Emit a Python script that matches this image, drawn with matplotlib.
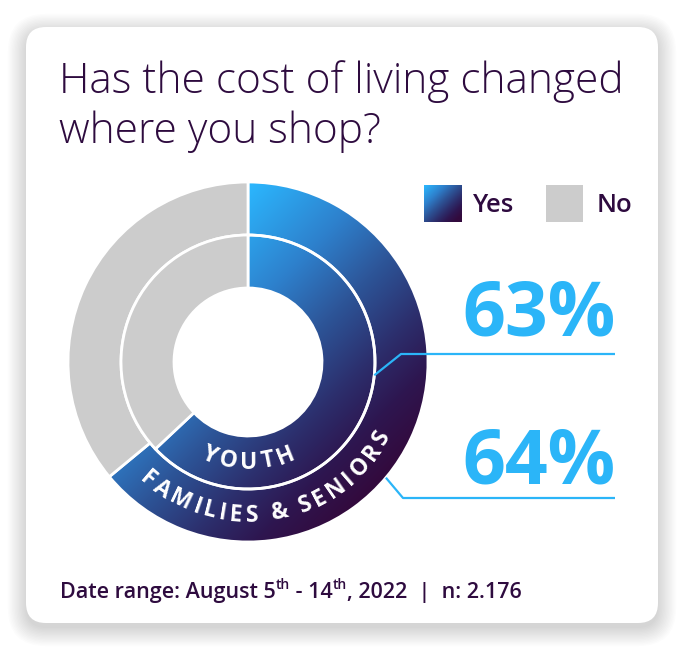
import numpy as np
import matplotlib
matplotlib.use('Agg')
import matplotlib.pyplot as plt
from matplotlib.colors import LinearSegmentedColormap
from matplotlib.patches import FancyBboxPatch, Rectangle
from matplotlib.font_manager import FontProperties

# ---- data ----
ring_labels = ['FAMILIES & SENIORS', 'YOUTH']   # outer ring, inner ring
yes_share = [64, 63]
no_share = [36, 37]
legend_labels = ['Yes', 'No']
title_lines = ['Has the cost of living changed', 'where you shop?']
footer = [('Date range: August 5', 0), ('th', 1), (' - 14', 0), ('th', 1),
          (', 2022  |  n: 2.176', 0)]

PURPLE = '#2E0B3F'
CYAN = '#2BB5F8'
GREY = '#CCCCCC'
FONT = 'Open Sans'

grad = LinearSegmentedColormap.from_list(
    'yes', [(0, '#2BB8FF'), (0.3, '#2E80CC'), (0.5, '#2D5598'),
            (0.7, '#2C2E6C'), (0.85, '#2E1650'), (1, '#330A3D')])

W, H = 685, 650
fig = plt.figure(figsize=(W / 100, H / 100), dpi=100)
fig.patch.set_facecolor('white')

# background axes in pixel units (y down)
bg = fig.add_axes([0, 0, 1, 1])
bg.axis('off')

# card shadow + card
card = (26, 27, 632, 596)
for i in range(14):
    g = i * 1.4
    bg.add_patch(FancyBboxPatch((card[0] - g, card[1] - g + 5), card[2] + 2 * g, card[3] + 2 * g,
                                boxstyle=f'round,pad=0,rounding_size={20 + g}',
                                fc='black', ec='none', alpha=0.010))
bg.add_patch(FancyBboxPatch(card[:2], card[2], card[3], boxstyle='round,pad=0,rounding_size=20',
                            fc='white', ec='none'))

# title
for i, line in enumerate(title_lines):
    bg.text(59, 93 + i * 50, line, fontsize=30.5, family=FONT, weight='light',
            color=PURPLE, va='baseline')

# ---- donut ----
cx, cy, R = 248, 362, 180          # centre and outer radius in pixels
ring_w = 53 / R
ax = fig.add_axes([(cx - R) / W, (H - cy - R) / H, 2 * R / W, 2 * R / H])

xs = np.linspace(-1, 1, 500)
X, Y = np.meshgrid(xs, xs)
T = np.clip((X - Y + 1) / 2.4, 0, 1)

for k, (yes, no) in enumerate(zip(yes_share, no_share)):
    radius = 1 - k * ring_w
    wedges, _ = ax.pie([yes, no], radius=radius, startangle=90, counterclock=False,
                       colors=['none', GREY],
                       wedgeprops=dict(width=ring_w, edgecolor='white', linewidth=2))
    img = ax.imshow(T, cmap=grad, vmin=0, vmax=1, extent=(-1, 1, -1, 1),
                    origin='lower', zorder=0.5)
    img.set_clip_path(wedges[0])

ax.set_xlim(-1, 1)
ax.set_ylim(-1, 1)
ax.set_aspect('auto')
ax.axis('off')

renderer = fig.canvas.get_renderer()


def arc_text(label, radius_px, center_deg, size, tracking):
    fp = FontProperties(family=FONT, weight='bold', size=size)
    em = size * 100 / 72
    widths = []
    for c in label:
        if c == ' ':
            widths.append(0.26 * em)
        else:
            widths.append(renderer.get_text_width_height_descent(c, fp, ismath=False)[0])
    total = sum(widths) + tracking * (len(label) - 1)
    pos = -total / 2
    for c, w in zip(label, widths):
        s = pos + w / 2
        pos += w + tracking
        if c == ' ':
            continue
        phi = center_deg - np.degrees(s / radius_px)
        theta = np.radians(90 - phi)
        r = radius_px / R
        ax.text(r * np.cos(theta), r * np.sin(theta), c, fontproperties=fp,
                color='white', ha='center', va='center', rotation=np.degrees(theta) + 90,
                rotation_mode='anchor')


arc_text(ring_labels[0], 154, 170, 16.5, 3.2)
arc_text(ring_labels[1], 101, 180, 16.5, 3.5)

# ---- leader lines and values ----
line_specs = [(127, 96, (401, 354)), (180, 130, (403, 498))]
for (rr, phi, elbow), val, base in zip(line_specs, [yes_share[1], yes_share[0]], [336, 484]):
    sx = cx + rr * np.sin(np.radians(phi))
    sy = cy - rr * np.cos(np.radians(phi))
    ax.plot([sx, elbow[0], 615], [sy, elbow[1], elbow[1]], color=CYAN, lw=1.6,
            solid_capstyle='butt', transform=bg.transData, clip_on=False, zorder=5)
    bg.text(616, base, f'{val}%', fontsize=54, family=FONT, weight='bold',
            color=CYAN, ha='right', va='baseline')

# ---- legend ----
sq = np.linspace(0, 1, 60)
SX, SY = np.meshgrid(sq, sq)
bg.imshow(np.clip((SX + SY) / 2 * 1.1, 0, 1), cmap=grad, vmin=0, vmax=1,
          extent=(424, 462, 222, 185), origin='upper', aspect='auto', zorder=2)
bg.add_patch(Rectangle((546, 185), 37, 37, fc=GREY, ec='none', zorder=2))
for x, lab in zip([473, 597], legend_labels):
    bg.text(x, 205, lab, fontsize=18.5, family=FONT, weight='semibold',
            color=PURPLE, va='center')

# ---- footer ----
x = 60
for txt, sup in footer:
    fs = 10 if sup else 15.5
    fp = FontProperties(family=FONT, weight='semibold', size=fs)
    y = 589 if sup else 598
    bg.text(x, y, txt, fontproperties=fp, color=PURPLE, va='baseline')
    w = renderer.get_text_width_height_descent(txt.replace(' ', '\u00a0'), fp, ismath=False)[0]
    x += w

bg.set_xlim(0, W)
bg.set_ylim(H, 0)

fig.savefig('out.png', dpi=100)
